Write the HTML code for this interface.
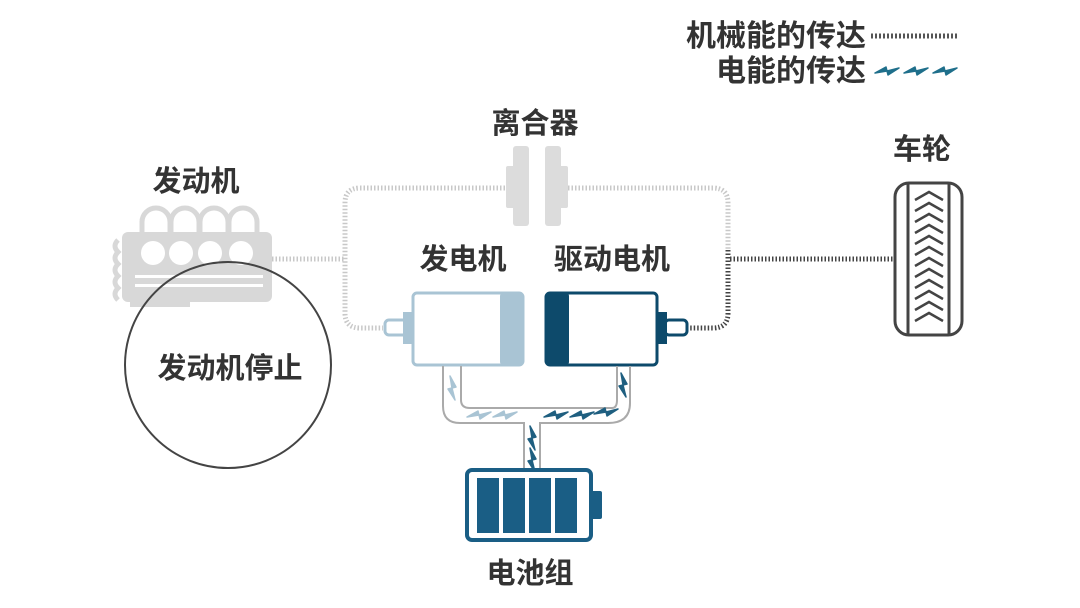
<!DOCTYPE html>
<html><head><meta charset="utf-8"><style>
body{margin:0;width:1080px;height:608px;background:#fff;overflow:hidden}
svg{display:block}
text{font-family:"Liberation Sans","Noto Sans CJK SC",sans-serif;font-weight:bold;fill:#333}
</style></head><body>
<svg width="1080" height="608" viewBox="0 0 1080 608">
<defs>
<g id="bolt"><path d="M-12 2 L-1 -4 L0 0 L12 -3 L1 4 L0 0 Z" stroke-width="1.5" stroke-linejoin="round"/></g>
</defs>
<!-- legend -->
<text x="866" y="46" font-size="30" text-anchor="end">机械能的传达</text>
<line x1="871" y1="36" x2="958" y2="36" stroke="#555" stroke-width="5" stroke-dasharray="2 2"/>
<text x="866" y="81" font-size="30" text-anchor="end">电能的传达</text>
<g fill="#1f6f8b" stroke="#1f6f8b">
<use href="#bolt" x="887" y="71"/><use href="#bolt" x="916" y="71"/><use href="#bolt" x="945" y="71"/>
</g>

<!-- labels -->
<text x="535" y="133" font-size="29" text-anchor="middle">离合器</text>
<text x="196" y="191" font-size="29" text-anchor="middle">发动机</text>
<text x="463" y="269" font-size="29" text-anchor="middle">发电机</text>
<text x="612" y="269" font-size="29" text-anchor="middle">驱动电机</text>
<text x="922" y="159" font-size="29" text-anchor="middle">车轮</text>
<text x="530" y="583" font-size="29" text-anchor="middle">电池组</text>

<!-- mechanical loop light -->
<g fill="none" stroke="#c8c8c8" stroke-width="5" stroke-dasharray="1.5 2">
<path d="M505 188 H360 Q345 188 345 203 V313 Q345 328 360 328 H383"/>
<path d="M568 188 H713 Q728 188 728 203 V250"/>
<line x1="272" y1="259" x2="345" y2="259"/>
</g>
<g fill="none" stroke="#444" stroke-width="5" stroke-dasharray="1.5 2">
<path d="M728 250 V313 Q728 328 713 328 H688"/>
<line x1="730" y1="259" x2="893" y2="259"/>
</g>

<!-- clutch -->
<g fill="#dcdcdc">
<rect x="513" y="146" width="16" height="80" rx="3"/>
<rect x="506" y="166" width="12" height="42" rx="2"/>
<rect x="545" y="146" width="16" height="80" rx="3"/>
<rect x="556" y="166" width="12" height="42" rx="2"/>
</g>

<!-- engine -->
<g fill="none" stroke="#d8d8d8" stroke-width="5">
<path d="M142 234 V222 A14 14 0 0 1 170 222 V234 M171 234 V222 A14 14 0 0 1 199 222 V234 M200 234 V222 A14 14 0 0 1 228 222 V234 M229 234 V222 A14 14 0 0 1 257 222 V234"/>
<path d="M118 240 q-6 6 0 12 q-6 6 0 12 q-6 6 0 12 q-6 6 0 12 q-6 6 0 12"/>
</g>
<rect x="122" y="232" width="150" height="70" rx="6" fill="#d8d8d8"/>
<rect x="130" y="295" width="60" height="12" fill="#d8d8d8"/>
<g fill="#fff">
<circle cx="153" cy="253" r="12"/><circle cx="181" cy="253" r="12"/><circle cx="210" cy="253" r="12"/><circle cx="241" cy="253" r="12"/>
<rect x="135" y="275" width="128" height="3"/><rect x="135" y="284" width="128" height="3"/>
</g>
<circle cx="228" cy="365" r="103" fill="none" stroke="#444" stroke-width="2"/>
<text x="230" y="378" font-size="29" text-anchor="middle">发动机停止</text>

<!-- generator -->
<rect x="385" y="320" width="22" height="15" rx="4" fill="#fff" stroke="#a9c4d4" stroke-width="3"/>
<rect x="403" y="312" width="12" height="32" fill="#a9c4d4"/>
<rect x="413" y="293" width="110" height="72" rx="4" fill="#fff" stroke="#a9c4d4" stroke-width="3"/>
<rect x="500" y="293" width="23" height="72" rx="3" fill="#a9c4d4"/>
<!-- drive motor -->
<rect x="665" y="320" width="22" height="15" rx="4" fill="#fff" stroke="#0d4a6b" stroke-width="3"/>
<rect x="655" y="312" width="12" height="32" fill="#0d4a6b"/>
<rect x="546" y="293" width="111" height="72" rx="4" fill="#fff" stroke="#0d4a6b" stroke-width="3"/>
<rect x="546" y="293" width="23" height="72" rx="3" fill="#0d4a6b"/>

<!-- wires -->
<g fill="none" stroke="#aaa" stroke-width="2">
<path d="M443 366 V406 Q443 423 460 423 H524 V468"/>
<path d="M461 366 V400 Q461 408 470 408 H612 Q617 408 617 400 V366"/>
<path d="M540 468 V423 H608 Q630 423 630 403 V366"/>
</g>
<g fill="#a9c4d4" stroke="#a9c4d4">
<use href="#bolt" x="479" y="415"/><use href="#bolt" x="505" y="415"/>
<use href="#bolt" x="452" y="388" transform="rotate(90 452 388)"/>
</g>
<g fill="#1f5f80" stroke="#1f5f80">
<use href="#bolt" x="556" y="415"/><use href="#bolt" x="582" y="415"/><use href="#bolt" x="606" y="412"/>
<use href="#bolt" x="532" y="438" transform="rotate(90 532 438)"/>
<use href="#bolt" x="532" y="460" transform="rotate(90 532 460)"/>
<use href="#bolt" x="623" y="385" transform="rotate(90 623 385)"/>
</g>

<!-- battery -->
<rect x="467" y="470" width="124" height="70" rx="5" fill="#fff" stroke="#1a5e85" stroke-width="4"/>
<rect x="591" y="491" width="11" height="28" rx="2" fill="#1a5e85"/>
<g fill="#1a5e85">
<rect x="477" y="478" width="22" height="55"/><rect x="503" y="478" width="22" height="55"/>
<rect x="529" y="478" width="22" height="55"/><rect x="555" y="478" width="22" height="55"/>
</g>

<!-- wheel -->
<rect x="895" y="183" width="67" height="152" rx="14" fill="#fff" stroke="#444" stroke-width="3"/>
<line x1="908" y1="184" x2="908" y2="334" stroke="#444" stroke-width="3"/>
<line x1="949" y1="184" x2="949" y2="334" stroke="#444" stroke-width="3"/>
<path fill="none" stroke="#444" stroke-width="2.5" d="
M915 200 l14 -8 l14 8 M915 211 l14 -8 l14 8 M915 222 l14 -8 l14 8 M915 233 l14 -8 l14 8
M915 244 l14 -8 l14 8 M915 255 l14 -8 l14 8 M915 266 l14 -8 l14 8 M915 277 l14 -8 l14 8
M915 288 l14 -8 l14 8 M915 299 l14 -8 l14 8 M915 310 l14 -8 l14 8 M915 321 l14 -8 l14 8"/>
</svg>
</body></html>
